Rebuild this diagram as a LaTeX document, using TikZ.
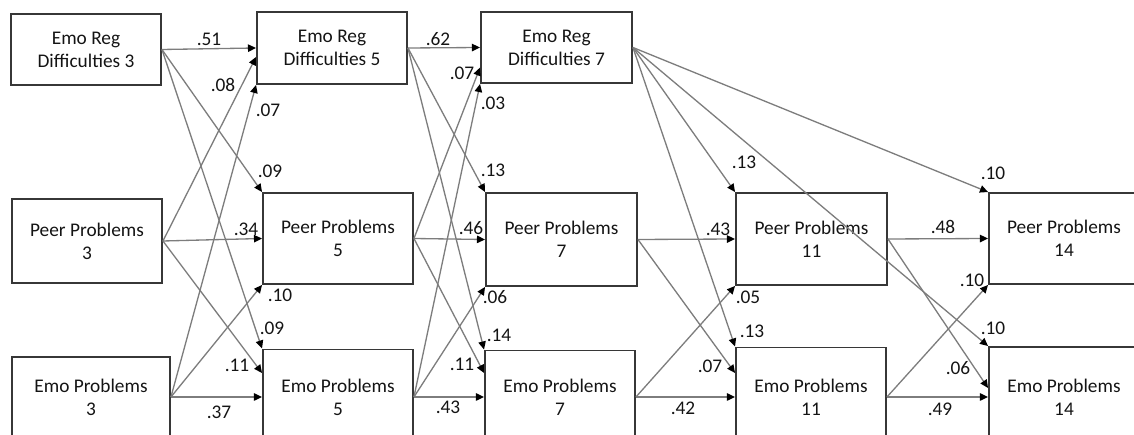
\documentclass[tikz,border=0pt]{standalone}
\usepackage{fontspec}
\setmainfont{Carlito}
\usepackage{tikz}
\usetikzlibrary{arrows.meta, calc}
\definecolor{boxdark}{RGB}{55,55,55}
\definecolor{linkgray}{RGB}{125,125,125}
\definecolor{txtdark}{RGB}{20,20,20}
\tikzset{
  varbox/.style={rectangle, draw=boxdark, line width=1.1pt,
    align=center, text=txtdark, minimum width=3cm, inner sep=2pt,
    font=\fontsize{11}{13}\selectfont},
  link/.style={-{Triangle[length=4.6pt, width=4.2pt, color=black]},
    color=linkgray, line width=0.75pt},
  coef/.style={inner sep=0pt, text=txtdark,
    font=\fontsize{11}{13}\selectfont}
}
\begin{document}
\begin{tikzpicture}[x=0.02cm, y=-0.02cm]
  \useasboundingbox (0,0) rectangle (1134,435);
  \clip (0,0) rectangle (1134,435);
  % Wave 3
  \node[varbox, minimum height=1.42cm] (er3) at (86,49.5) {Emo Reg\\Difficulties 3};
  \node[varbox, minimum height=1.68cm] (pp3) at (87,241) {Peer Problems\\3};
  \node[varbox, minimum width=3.16cm, minimum height=1.6cm] (ep3) at (91,397) {Emo Problems\\3};
  % Wave 5
  \node[varbox, minimum height=1.44cm] (er5) at (332,48) {Emo Reg\\Difficulties 5};
  \node[varbox, minimum height=1.82cm] (pp5) at (338,238.5) {Peer Problems\\5};
  \node[varbox, minimum height=1.9cm] (ep5) at (338,397) {Emo Problems\\5};
  % Wave 7
  \node[varbox, minimum width=3.02cm, minimum height=1.42cm] (er7) at (556.5,47.5) {Emo Reg\\Difficulties 7};
  \node[varbox, minimum width=3.02cm, minimum height=1.86cm] (pp7) at (561.5,239.5) {Peer Problems\\7};
  \node[varbox, minimum height=1.86cm] (ep7) at (560,397) {Emo Problems\\7};
  % Wave 11
  \node[varbox, minimum width=3.02cm, minimum height=1.84cm] (pp11) at (811.5,239) {Peer Problems\\11};
  \node[varbox, minimum height=1.98cm] (ep11) at (811,397) {Emo Problems\\11};
  % Wave 14
  \node[varbox, minimum height=1.82cm] (pp14) at (1064,238.5) {Peer Problems\\14};
  \node[varbox, minimum height=2cm] (ep14) at (1064,397) {Emo Problems\\14};

  % 3 -> 5
  \draw[link] (er3.east) -- (er5.west);
  \draw[link] (pp3.east) -- ($(er5.west)+(0,9)$);
  \draw[link] (ep3.east) -- (er5.south west);
  \draw[link] (er3.east) -- (pp5.north west);
  \draw[link] (pp3.east) -- (pp5.west);
  \draw[link] (ep3.east) -- (pp5.south west);
  \draw[link] (er3.east) -- (ep5.north west);
  \draw[link] (pp3.east) -- ($(ep5.west)+(0,-24)$);
  \draw[link] (ep3.east) -- (ep5.west);
  % 5 -> 7
  \draw[link] (er5.east) -- (er7.west);
  \draw[link] (pp5.east) -- ($(er7.west)+(0,20)$);
  \draw[link] (ep5.east) -- (er7.south west);
  \draw[link] (er5.east) -- (pp7.north west);
  \draw[link] (pp5.east) -- (pp7.west);
  \draw[link] (ep5.east) -- (pp7.south west);
  \draw[link] (er5.east) -- (ep7.north west);
  \draw[link] (pp5.east) -- ($(ep7.west)+(0,-24)$);
  \draw[link] (ep5.east) -- (ep7.west);
  % 7 -> 11
  \draw[link] (er7.east) -- (pp11.north west);
  \draw[link] (pp7.east) -- (pp11.west);
  \draw[link] (ep7.east) -- (pp11.south west);
  \draw[link] (er7.east) -- (ep11.north west);
  \draw[link] (pp7.east) -- ($(ep11.west)+(0,-24)$);
  \draw[link] (ep7.east) -- (ep11.west);
  % 7 / 11 -> 14
  \draw[link] (er7.east) -- (pp14.north west);
  \draw[link] (er7.east) -- (ep14.north west);
  \draw[link] (pp11.east) -- (pp14.west);
  \draw[link] (pp11.east) -- ($(ep14.west)+(0,-9)$);
  \draw[link] (ep11.east) -- (pp14.south west);
  \draw[link] (ep11.east) -- (ep14.west);

  % Coefficients
  \node[coef] (c35a) at (209,39) {.51};
  \node[coef] (c35b) at (223,85) {.08};
  \node[coef] (c35c) at (268,110) {.07};
  \node[coef] (c35d) at (270,171) {.09};
  \node[coef] (c35e) at (246,229) {.34};
  \node[coef] (c35f) at (280,295) {.10};
  \node[coef] (c35g) at (272,328) {.09};
  \node[coef] (c35h) at (237,365) {.11};
  \node[coef] (c35i) at (219,412) {.37};
  \node[coef] (c57a) at (438,39) {.62};
  \node[coef] (c57b) at (462,73) {.07};
  \node[coef] (c57c) at (493,103) {.03};
  \node[coef] (c57d) at (493,170) {.13};
  \node[coef] (c57e) at (471,228) {.46};
  \node[coef] (c57f) at (495,297) {.06};
  \node[coef] (c57g) at (499,335) {.14};
  \node[coef] (c57h) at (462,364) {.11};
  \node[coef] (c57i) at (448,407) {.43};
  \node[coef] (c711a) at (744,162) {.13};
  \node[coef] (c711b) at (718,229) {.43};
  \node[coef] (c711c) at (748,297) {.05};
  \node[coef] (c711d) at (752,331) {.13};
  \node[coef] (c711e) at (710,366) {.07};
  \node[coef] (c711f) at (683,408) {.42};
  \node[coef] (c14a) at (993,173) {.10};
  \node[coef] (c14b) at (993,328) {.10};
  \node[coef] (c14c) at (943,227) {.48};
  \node[coef] (c14d) at (958,368) {.06};
  \node[coef] (c14e) at (972,280) {.10};
  \node[coef] (c14f) at (940,409) {.49};
\end{tikzpicture}
\end{document}
